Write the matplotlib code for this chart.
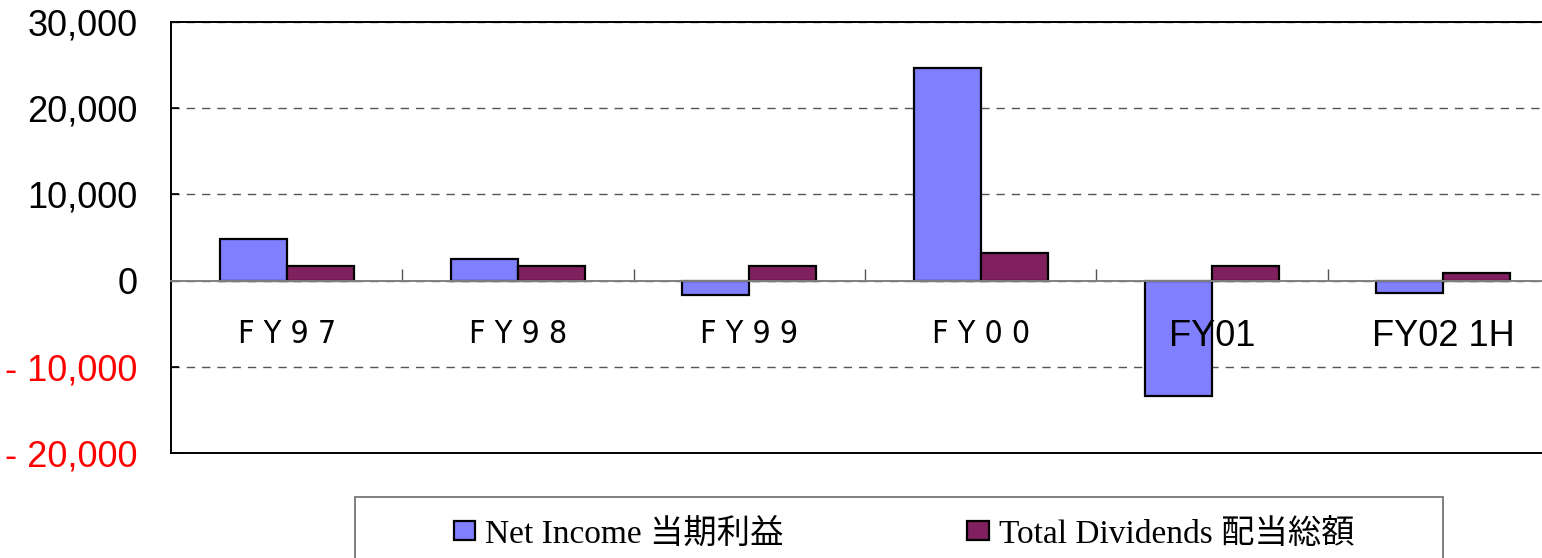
import numpy as np
import matplotlib.pyplot as plt
from matplotlib.patches import Rectangle
from matplotlib.font_manager import FontProperties

categories = ['FY97', 'FY98', 'FY99', 'FY00', 'FY01', 'FY02 1H']
tick_labels = ['F Y 9 7', 'F Y 9 8', 'F Y 9 9', 'F Y 0 0', 'FY01', 'FY02 1H']
net_income = [4800, 2550, -1650, 24700, -13400, -1400]
total_dividends = [1700, 1750, 1750, 3150, 1700, 850]
yticks = [-20000, -10000, 0, 10000, 20000, 30000]

W, H = 1542, 558
fig = plt.figure(figsize=(W / 100, H / 100), dpi=100)
# plot area runs past the right edge of the picture, like the original
ax = fig.add_axes([171 / W, 1 - 453 / H, (1559 - 171) / W, (453 - 22) / H])

x = np.arange(len(categories))
bw = 0.29
ax.bar(x - bw / 2, net_income, bw, color='#8080ff', edgecolor='black',
       linewidth=1.6, label='Net Income 当期利益', zorder=3)
ax.bar(x + bw / 2, total_dividends, bw, color='#80205f', edgecolor='black',
       linewidth=1.6, label='Total Dividends 配当総額', zorder=3)

ax.set_xlim(-0.5, len(categories) - 0.5)
ax.set_ylim(-20000, 30000)
ax.set_yticks(yticks)
ax.set_yticklabels([f'{v:,}'.replace('-', '- ') for v in yticks])
ax.tick_params(axis='y', direction='in', length=6, width=1.2, pad=24,
               labelsize=26, colors='black')
for lab, v in zip(ax.get_yticklabels(), yticks):
    lab.set_fontfamily('Liberation Sans')
    if v < 0:
        lab.set_color('red')

ax.set_xticks([])
ax.grid(axis='y', color='#555555', linestyle=(0, (6, 5)), linewidth=1.0, zorder=1)

for s in ['left', 'top', 'bottom', 'right']:
    ax.spines[s].set_linewidth(1.4)
    ax.spines[s].set_color('black')

# category axis sitting on the zero line, drawn above the bars
sec = ax.secondary_xaxis(0, transform=ax.transData)
sec.set_zorder(5)
sec.spines['bottom'].set_color('#808080')
sec.spines['bottom'].set_linewidth(1.4)
sec.set_xticks(x)
sec.set_xticklabels(tick_labels)
sec.set_xticks(x[:-1] + 0.5, minor=True)
sec.tick_params(which='major', length=0, pad=28, labelsize=26)
sec.tick_params(which='minor', direction='in', length=9, width=1.0, color='#555555')
for i, lab in enumerate(sec.get_xticklabels()):
    if i < 4:
        lab.set_fontfamily(['DejaVu Sans', 'Liberation Sans'])
        lab.set_fontstretch('condensed')
        lab.set_fontsize(23)
    else:
        lab.set_fontfamily('Liberation Sans')

# legend box
fig.patches.append(Rectangle((355 / W, -0.1), (1443 - 355) / W, 0.1 + 1 - 497 / H,
                             transform=fig.transFigure, fill=False,
                             edgecolor='#808080', linewidth=1.4))
leg = fig.legend(loc='center', bbox_to_anchor=(904 / W, 1 - 534 / H), ncol=2,
                 frameon=False, handlelength=0.65, handleheight=0.5,
                 handletextpad=0.3, columnspacing=5.5,
                 prop=FontProperties(family=['Liberation Serif', 'Noto Sans CJK JP'], size=24))

fig.savefig('out.png', dpi=100)
